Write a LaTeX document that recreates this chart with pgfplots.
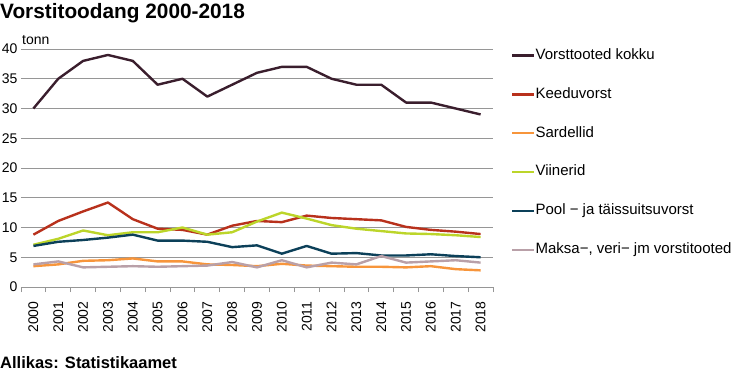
\documentclass[border=0pt]{standalone}
\usepackage{pgfplots}
\pgfplotsset{compat=1.18}
\usepackage{fontspec}
\setmainfont{Liberation Sans}
\definecolor{ckokku}{RGB}{58,30,45}
\definecolor{ckeedu}{RGB}{184,49,28}
\definecolor{csard}{RGB}{247,149,59}
\definecolor{cviin}{RGB}{188,213,42}
\definecolor{cpool}{RGB}{12,64,89}
\definecolor{cmaksa}{RGB}{185,160,168}
\definecolor{cgrid}{RGB}{150,150,150}
\begin{document}
\begin{tikzpicture}[x=1pt,y=1pt]
\useasboundingbox (0,0) rectangle (734,376);
\node[anchor=base west,inner sep=0,font=\fontsize{20.8}{24}\selectfont\bfseries] at (0,357) {Vorstitoodang 2000-2018};
\node[anchor=base west,inner sep=0,font=\fontsize{16.5}{19}\selectfont\bfseries] at (0,8) {Allikas: Statistikaamet};
\node[anchor=base west,inner sep=0,font=\fontsize{14}{16}\selectfont] at (22,331) {tonn};
\begin{axis}[
  at={(21pt,89pt)}, anchor=south west,
  width=472pt, height=238pt, scale only axis,
  xmin=-0.5, xmax=18.5, ymin=0, ymax=40,
  ytick={0,5,...,40},
  xtick={0,...,18},
  xticklabels={2000,2001,2002,2003,2004,2005,2006,2007,2008,2009,2010,2011,2012,2013,2014,2015,2016,2017,2018},
  xticklabel style={rotate=90, anchor=east, font=\fontsize{14}{16}\selectfont},
  xticklabel shift=11pt,
  yticklabel style={font=\fontsize{14}{16}\selectfont},
  /pgf/number format/assume math mode=true,
  xtick style={draw=none}, ytick style={draw=none},
  extra x ticks={-0.5,0.5,...,18.5},
  extra x tick labels={},
  extra x tick style={xtick style={draw=cgrid, line width=0.8pt}, tick align=outside, major tick length=5pt},
  axis x line*=bottom, axis y line*=left,
  x axis line style={draw=cgrid, line width=0.8pt, -},
  y axis line style={draw=none},
  ymajorgrids, grid style={draw=cgrid, line width=0.8pt},
  every axis plot/.append style={line width=2.4pt, line join=round},
  legend style={at={(rel axis cs:1,1)}, anchor=north west, xshift=15pt, yshift=2.5pt,
    draw=none, fill=none, font=\fontsize{15}{17}\selectfont,
    nodes={inner sep=0pt, text height=10.5pt, text depth=3pt}, row sep=25.4pt,
    /tikz/every even column/.append style={column sep=8pt}},
  legend cell align=left,
  legend image code/.code={\draw[#1, line width=2.4pt] (0pt,0pt) -- (22pt,0pt);},
]
\addplot[ckokku] coordinates {(0,30)(1,35)(2,38)(3,39)(4,38)(5,34)(6,35)(7,32)(8,34)(9,36)(10,37)(11,37)(12,35)(13,34)(14,34)(15,31)(16,31)(17,30)(18,29)};
\addlegendentry{Vorsttooted kokku}
\addplot[ckeedu] coordinates {(0,8.8)(1,11.1)(2,12.7)(3,14.2)(4,11.4)(5,9.8)(6,9.6)(7,8.8)(8,10.3)(9,11.1)(10,10.9)(11,12.0)(12,11.6)(13,11.4)(14,11.2)(15,10.1)(16,9.6)(17,9.3)(18,8.9)};
\addlegendentry{Keeduvorst}
\addplot[csard] coordinates {(0,3.5)(1,3.8)(2,4.4)(3,4.5)(4,4.8)(5,4.3)(6,4.3)(7,3.8)(8,3.7)(9,3.5)(10,3.9)(11,3.6)(12,3.5)(13,3.4)(14,3.4)(15,3.3)(16,3.5)(17,3.0)(18,2.8)};
\addlegendentry{Sardellid}
\addplot[cviin] coordinates {(0,7.1)(1,8.1)(2,9.5)(3,8.7)(4,9.2)(5,9.2)(6,10.0)(7,8.8)(8,9.2)(9,11.0)(10,12.5)(11,11.5)(12,10.4)(13,9.8)(14,9.4)(15,9.0)(16,8.9)(17,8.7)(18,8.4)};
\addlegendentry{Viinerid}
\addplot[cpool] coordinates {(0,6.9)(1,7.6)(2,7.9)(3,8.3)(4,8.8)(5,7.8)(6,7.8)(7,7.6)(8,6.7)(9,7.0)(10,5.6)(11,6.9)(12,5.6)(13,5.7)(14,5.3)(15,5.3)(16,5.5)(17,5.2)(18,5.0)};
\addlegendentry{Pool − ja täissuitsuvorst}
\addplot[cmaksa] coordinates {(0,3.8)(1,4.3)(2,3.3)(3,3.4)(4,3.5)(5,3.4)(6,3.5)(7,3.6)(8,4.2)(9,3.3)(10,4.5)(11,3.3)(12,4.1)(13,3.8)(14,5.2)(15,4.1)(16,4.3)(17,4.5)(18,4.1)};
\addlegendentry{Maksa−, veri− jm vorstitooted}
\end{axis}
\end{tikzpicture}
\end{document}
